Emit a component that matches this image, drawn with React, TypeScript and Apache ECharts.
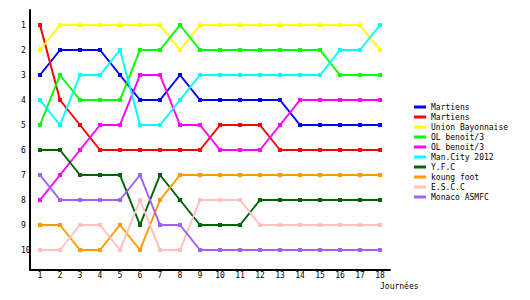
import React, { useEffect, useRef } from "react";
import * as echarts from "echarts";

const rounds = [1, 2, 3, 4, 5, 6, 7, 8, 9, 10, 11, 12, 13, 14, 15, 16, 17, 18];
const rankTicks = [1, 2, 3, 4, 5, 6, 7, 8, 9, 10];

const teamNames = [
  "Martiens",
  "Martiens",
  "Union Bayonnaise",
  "OL benoit/3",
  "OL benoit/3",
  "Man.City 2012",
  "Y.F.C",
  "koung foot",
  "E.S.C.C",
  "Monaco ASMFC",
];
const teamColors = [
  "#0000ff",
  "#ff0000",
  "#ffff00",
  "#00ff00",
  "#ff00ff",
  "#00ffff",
  "#006400",
  "#ff9900",
  "#ffc0c0",
  "#a060f0",
];

const martiensBlue = [3, 2, 2, 2, 3, 4, 4, 3, 4, 4, 4, 4, 4, 5, 5, 5, 5, 5];
const martiensRed = [1, 4, 5, 6, 6, 6, 6, 6, 6, 5, 5, 5, 6, 6, 6, 6, 6, 6];
const unionBayonnaise = [2, 1, 1, 1, 1, 1, 1, 2, 1, 1, 1, 1, 1, 1, 1, 1, 1, 2];
const olBenoitGreen = [5, 3, 4, 4, 4, 2, 2, 1, 2, 2, 2, 2, 2, 2, 2, 3, 3, 3];
const olBenoitMagenta = [8, 7, 6, 5, 5, 3, 3, 5, 5, 6, 6, 6, 5, 4, 4, 4, 4, 4];
const manCity = [4, 5, 3, 3, 2, 5, 5, 4, 3, 3, 3, 3, 3, 3, 3, 2, 2, 1];
const yfc = [6, 6, 7, 7, 7, 9, 7, 8, 9, 9, 9, 8, 8, 8, 8, 8, 8, 8];
const koungFoot = [9, 9, 10, 10, 9, 10, 8, 7, 7, 7, 7, 7, 7, 7, 7, 7, 7, 7];
const escc = [10, 10, 9, 9, 10, 8, 10, 10, 8, 8, 8, 9, 9, 9, 9, 9, 9, 9];
const monaco = [7, 8, 8, 8, 8, 7, 9, 9, 10, 10, 10, 10, 10, 10, 10, 10, 10, 10];

const seriesValues = [
  martiensBlue,
  martiensRed,
  unionBayonnaise,
  olBenoitGreen,
  olBenoitMagenta,
  manCity,
  yfc,
  koungFoot,
  escc,
  monaco,
];

const FONT = "DejaVu Sans Mono";

export default function App() {
  const ref = useRef<HTMLDivElement>(null);

  useEffect(() => {
    if (!ref.current) return;
    const chart = echarts.init(ref.current, null, { renderer: "svg" });
    const keys = teamNames.map((n, i) => n + "#" + i);
    const series = seriesValues.map((vals, i) => ({
      type: "line",
      name: keys[i],
      data: rounds.map((r, j) => [r, vals[j]]),
      symbol: "rect",
      symbolSize: 4,
      showSymbol: true,
      lineStyle: { width: 2, color: teamColors[i] },
      itemStyle: { color: teamColors[i] },
      emphasis: { disabled: true },
    }));
    chart.setOption({
      animation: false,
      backgroundColor: "#ffffff",
      grid: { left: 30, right: 140, top: 10, bottom: 30 },
      xAxis: {
        type: "value",
        min: 0.5,
        max: 18.5,
        splitLine: { show: false },
        axisLine: { lineStyle: { color: "#000", width: 2 } },
        axisTick: { show: false },
        axisLabel: {
          customValues: rounds,
          color: "#000",
          fontFamily: FONT,
          fontSize: 8,
          margin: 1,
        },
      },
      yAxis: {
        type: "value",
        inverse: true,
        min: 0.4,
        max: 10.8,
        splitLine: { show: false },
        axisLine: { show: true, lineStyle: { color: "#000", width: 2 } },
        axisTick: { show: false },
        axisLabel: {
          customValues: rankTicks,
          color: "#000",
          fontFamily: FONT,
          fontSize: 8,
          align: "left",
          margin: 9,
        },
      },
      legend: {
        orient: "vertical",
        left: 409,
        top: 97,
        itemGap: 0,
        itemWidth: 12,
        itemHeight: 3,
        icon: "rect",
        data: keys,
        formatter: (name: string) => name.split("#")[0],
        textStyle: {
          fontFamily: FONT,
          fontSize: 8,
          color: "#000",
          lineHeight: 10,
        },
      },
      graphic: [
        {
          type: "text",
          left: 380,
          top: 282,
          style: {
            text: "Journées",
            fontFamily: FONT,
            fontSize: 8,
            fill: "#000",
          },
        },
      ],
      series,
    });
    return () => chart.dispose();
  }, []);

  return (
    <div
      ref={ref}
      style={{ position: "fixed", left: 0, top: 0, width: 530, height: 300 }}
    />
  );
}
